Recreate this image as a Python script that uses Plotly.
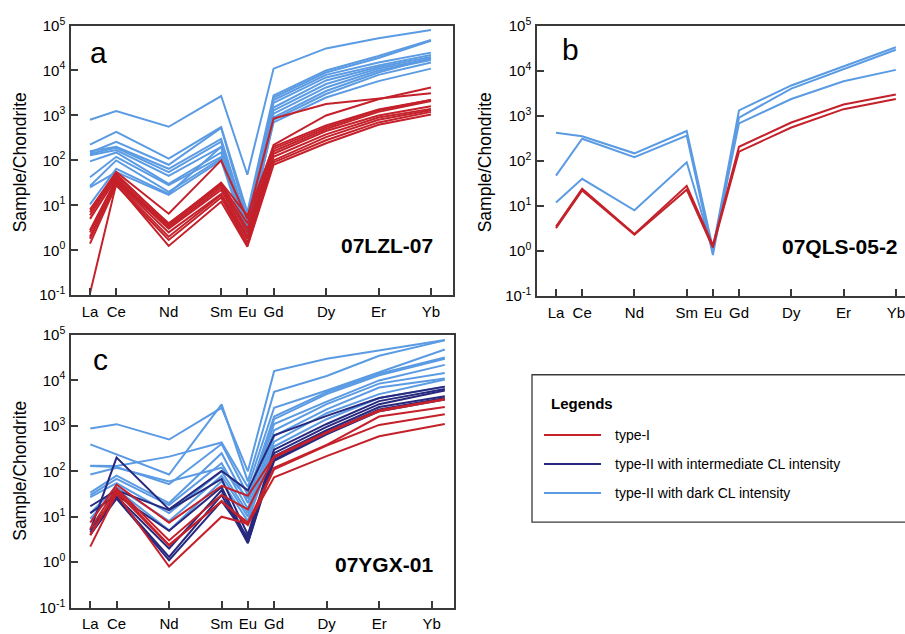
import plotly.graph_objects as go

# ---------------- data ----------------
ELEMENTS = ["La", "Ce", "Nd", "Sm", "Eu", "Gd", "Dy", "Er", "Yb"]
# position of each element along the REE axis (atomic-number offset from La)
POS_AB = [0, 1, 3, 5, 6, 7, 9, 11, 13]
POS_C = [0, 1, 3, 5, 6, 7, 9, 11, 13.5]

TICK_VALS = [0.1, 1, 10, 100, 1000, 10000, 100000]
TICK_TEXT = ["10<sup>-1</sup>", "10<sup>0</sup>", "10<sup>1</sup>", "10<sup>2</sup>",
             "10<sup>3</sup>", "10<sup>4</sup>", "10<sup>5</sup>"]

# Panel a : 07LZL-07
A_DARK = [
    [800, 1250, 560, 2700, 48, 11000, 31000, 52000, 80000],
    [225, 430, 110, 550, 7, 2800, 10000, 21000, 48000],
    [150, 260, 80, 530, 5, 2500, 9000, 19000, 46000],
    [160, 200, 65, 300, 4, 2200, 8000, 15000, 25000],
    [140, 190, 55, 260, 3.5, 1900, 7000, 13000, 22000],
    [130, 170, 45, 200, 3, 1500, 6000, 12000, 20000],
    [95, 150, 30, 150, 2.5, 1300, 5000, 11000, 18000],
    [42, 120, 28, 120, 2.2, 1100, 4200, 10000, 17000],
    [27, 100, 20, 110, 2, 900, 3500, 9000, 19000],
    [25, 55, 17, 100, 1.8, 800, 3000, 8000, 15000],
    [10.5, 65, 18, 200, 2.5, 700, 2500, 5800, 11000],
]
A_TYPE1 = [
    [8, 55, 6.5, 100, 5, 850, 1800, 2400, 3100],
    [6, 45, 4, 30, 4, 220, 1000, 2300, 4200],
    [7, 50, 3.8, 32, 6, 200, 600, 1350, 2200],
    [5, 40, 3.5, 28, 3, 180, 550, 1300, 2200],
    [2.8, 38, 3.2, 25, 2.5, 160, 500, 1200, 2100],
    [2.5, 35, 3, 22, 2, 140, 450, 1000, 1600],
    [2, 33, 2.5, 18, 1.8, 120, 380, 900, 1400],
    [1.8, 30, 2, 17, 1.5, 100, 330, 800, 1300],
    [1.4, 28, 1.7, 15, 1.3, 90, 280, 700, 1200],
    [0.11, 30, 1.25, 12, 1.2, 80, 240, 620, 1050],
]

# Panel b : 07QLS-05-2
B_DARK = [
    [420, 350, 147, 460, 1.15, 1320, 4700, 12300, 33000],
    [47, 310, 121, 365, 0.82, 910, 4000, 10800, 29000],
    [12, 40, 8, 93, 1.0, 680, 2350, 5800, 10400],
]
B_TYPE1 = [
    [3.5, 24, 2.4, 28, 1.35, 205, 710, 1770, 2960],
    [3.2, 22, 2.3, 23, 1.2, 160, 550, 1400, 2350],
]

# Panel c : 07YGX-01
C_DARK = [
    [870, 1090, 500, 2500, 100, 16000, 30000, 46000, 78000],
    [390, 235, 85, 2960, 60, 5600, 12500, 35000, 76000],
    [132, 130, 210, 430, 45, 2500, 6000, 15000, 48000],
    [130, 125, 52, 400, 30, 1600, 5500, 14000, 32000],
    [85, 120, 60, 120, 25, 1400, 5000, 13000, 30000],
    [34, 80, 20, 250, 20, 1100, 3400, 10000, 22000],
    [30, 68, 18, 150, 15, 800, 3000, 8500, 14500],
    [27, 55, 12, 100, 12, 600, 2300, 7000, 11000],
    [12, 45, 8, 80, 10, 450, 1900, 5000, 10500],
    [9, 40, 5, 60, 8, 350, 1400, 4100, 7300],
]
C_INTER = [
    [5, 200, 14.5, 102, 38, 620, 1660, 4100, 7300],
    [17, 38, 14, 68, 4, 300, 1100, 3500, 6500],
    [12, 30, 4.9, 45, 3, 250, 950, 3000, 6000],
    [5.4, 28, 2, 38, 2.7, 215, 800, 2600, 4500],
    [4.5, 26, 1.3, 30, 2.6, 180, 720, 2300, 4100],
    [4, 25, 1.1, 22, 3.5, 170, 650, 2100, 3800],
]
C_TYPE1 = [
    [7.4, 51, 7.4, 48, 29, 215, 730, 2200, 3900],
    [5.4, 42, 3, 30, 14.5, 200, 700, 2100, 3800],
    [3.9, 38, 2.4, 21.5, 7.4, 120, 380, 1600, 2600],
    [4, 35, 2.3, 22, 6.5, 110, 370, 1050, 1800],
    [2.2, 32, 0.8, 10, 7, 74, 215, 590, 1100],
]

LEGEND_LABELS = ["type-I", "type-II with intermediate CL intensity", "type-II with dark CL intensity"]

# ---------------- style ----------------
RED = "#c4212b"
NAVY = "#27287e"
BLUE = "#5b9be3"
AX = "#3a3a3a"
FONT = "Liberation Sans, Arial, Helvetica, sans-serif"

fig = go.Figure()


def add_lines(series, pos, color, xa, ya):
    for s in series:
        fig.add_trace(go.Scatter(x=pos, y=s, mode="lines", xaxis=xa, yaxis=ya,
                                 line=dict(color=color, width=2), showlegend=False,
                                 hoverinfo="skip"))


add_lines(A_DARK, POS_AB, BLUE, "x", "y")
add_lines(A_TYPE1, POS_AB, RED, "x", "y")
add_lines(B_DARK, POS_AB, BLUE, "x2", "y2")
add_lines(B_TYPE1, POS_AB, RED, "x2", "y2")
add_lines(C_DARK, POS_C, BLUE, "x3", "y3")
add_lines(C_INTER, POS_C, NAVY, "x3", "y3")
add_lines(C_TYPE1, POS_C, RED, "x3", "y3")

W, H = 905, 634


def xdom(l, r):
    return [l / W, r / W]


def ydom(t, b):
    return [(H - b) / H, (H - t) / H]


def xaxis(dom, rng, anchor, mirror=True):
    return dict(domain=dom, range=rng, anchor=anchor, tickmode="array",
                tickvals=POS_AB, ticktext=ELEMENTS, ticks="inside", ticklen=7,
                tickwidth=1.5, tickcolor=AX, showline=True, linecolor=AX, linewidth=1.5,
                mirror=mirror, showgrid=False, zeroline=False, ticklabeloverflow="allow",
                tickfont=dict(size=15, color="black", family=FONT), ticklabelstandoff=2)


def yaxis(dom, anchor, mirror=True):
    return dict(domain=dom, type="log", range=[-1, 5], anchor=anchor, tickmode="array",
                tickvals=TICK_VALS, ticktext=TICK_TEXT, ticks="inside", ticklen=7,
                tickwidth=1.5, tickcolor=AX, showline=True, linecolor=AX, linewidth=1.5,
                mirror=mirror, showgrid=False, zeroline=False,
                tickfont=dict(size=15, color="black", family=FONT), ticklabelstandoff=1)


fig.update_layout(
    width=W, height=H, margin=dict(l=0, r=0, t=0, b=0),
    paper_bgcolor="white", plot_bgcolor="white", showlegend=False,
    font=dict(family=FONT, color="black"),
    xaxis=xaxis(xdom(71, 453), [-0.724, 13.84], "y"),
    yaxis=yaxis(ydom(15, 293), "x"),
    xaxis2=xaxis(xdom(537, 905), [-0.727, 13.35], "y2"),
    yaxis2=yaxis(ydom(15, 294), "x2", mirror=False),
    xaxis3=xaxis(xdom(71, 454), [-0.735, 13.85], "y3"),
    yaxis3=yaxis(ydom(334, 615), "x3"),
)

ann = []
# y-axis titles
for xp, yc in [(20, 156), (485, 156), (20, 474)]:
    ann.append(dict(text="Sample/Chondrite", x=xp / W, y=(H - yc) / H, xref="paper", yref="paper",
                    xanchor="center", yanchor="middle",
                    textangle=-90, showarrow=False, font=dict(size=17.5, family=FONT)))
# panel letters and sample names
for xr, yr, letter, lx, ly, name, nx, ny in [
    ("x", "y", "a", 0.073, 0.90, "07LZL-07", 0.953, 0.183),
    ("x2", "y2", "b", 0.090, 0.91, "07QLS-05-2", 0.986, 0.183),
    ("x3", "y3", "c", 0.076, 0.911, "07YGX-01", 0.950, 0.157),
]:
    ann.append(dict(text=letter, x=lx, y=ly, xref=xr + " domain", yref=yr + " domain",
                    xanchor="center", yanchor="middle",
                    showarrow=False, font=dict(size=30, family=FONT)))
    ann.append(dict(text="<b>" + name + "</b>", x=nx, y=ny, xref=xr + " domain", yref=yr + " domain",
                    xanchor="right", yanchor="middle", showarrow=False, font=dict(size=21, family=FONT)))

# legend box
shapes = [dict(type="rect", xref="paper", yref="paper", x0=532 / W, x1=1.02,
               y0=(H - 527) / H, y1=(H - 375) / H, line=dict(color=AX, width=1.3),
               fillcolor="rgba(0,0,0,0)")]
ann.append(dict(text="<b>Legends</b>", x=549 / W, y=(H - 405) / H, xref="paper", yref="paper",
                xanchor="left", yanchor="middle", showarrow=False, font=dict(size=15, family=FONT)))
for label, color, yc in zip(LEGEND_LABELS, [RED, NAVY, BLUE], [437, 467, 497]):
    shapes.append(dict(type="line", xref="paper", yref="paper", x0=544 / W, x1=601 / W,
                       y0=(H - yc) / H, y1=(H - yc) / H, line=dict(color=color, width=2)))
    ann.append(dict(text=label, x=613 / W, y=(H - yc) / H, xref="paper", yref="paper",
                    xanchor="left", yanchor="middle", showarrow=False, font=dict(size=14, family=FONT)))

fig.update_layout(annotations=ann, shapes=shapes)
fig.write_html("out.html", config={"displayModeBar": False},
               post_script="document.body.style.margin='0';document.body.style.padding='0';"
                           "document.body.style.overflow='hidden';")
